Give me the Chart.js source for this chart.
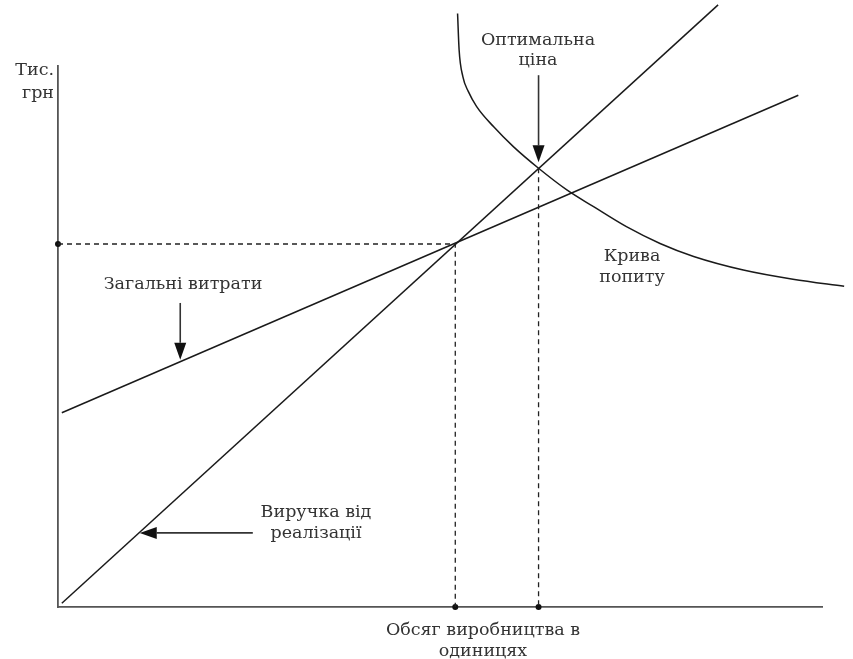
<!DOCTYPE html>
<html>
<head>
<meta charset="utf-8">
<script src="https://cdn.jsdelivr.net/npm/chart.js@4.4.1/dist/chart.umd.min.js"></script>
<style>
  html, body { margin: 0; padding: 0; background: #fff; }
  #wrap { width: 853px; height: 659px; }
</style>
</head>
<body>
<div id="wrap"><canvas id="chart" width="853" height="659"></canvas></div>
<script>
// обсяг (x) та тис. грн (y), умовні одиниці
const revenueX = [0.5, 86.4];
const revenueY = [0.7, 111.3];
const costX = [0.5, 96.9];
const costY = [35.9, 94.6];
const demandX = [52.3, 52.5, 53.0, 53.7, 54.8, 57.0, 59.6, 62.9, 66.6, 70.1, 74.4, 78.8, 83.2, 89.7, 96.2, 102.9];
const demandY = [109.7, 103.0, 98.0, 95.3, 92.5, 88.8, 85.1, 81.1, 77.1, 74.0, 70.3, 67.2, 64.8, 62.3, 60.6, 59.3];
const breakEven = [52.0, 67.1];
const optimum = [62.9, 81.1];

// arrows: from -> to (data units)
const arrows = [
  { from: [62.9, 98.3], to: [62.9, 82.2] },
  { from: [16.0, 56.2], to: [16.0, 45.7] },
  { from: [25.5, 13.7], to: [10.7, 13.7] }
];

const toXY = (xs, ys) => xs.map((x, i) => ({ x, y: ys[i] }));

const INK = '#1a1a1a';
const FONT = '17.5px "DejaVu Serif", serif';

const labelsPlugin = {
  id: 'labels',
  afterDraw(chart) {
    const { ctx, scales: { x, y } } = chart;
    ctx.save();
    // arrows
    ctx.strokeStyle = '#333';
    ctx.fillStyle = '#111';
    ctx.lineWidth = 1.6;
    arrows.forEach(a => {
      const x0 = x.getPixelForValue(a.from[0]), y0 = y.getPixelForValue(a.from[1]);
      const x1 = x.getPixelForValue(a.to[0]), y1 = y.getPixelForValue(a.to[1]);
      const ang = Math.atan2(y1 - y0, x1 - x0);
      const len = 17, half = 6;
      const bx = x1 - len * Math.cos(ang), by = y1 - len * Math.sin(ang);
      ctx.beginPath();
      ctx.moveTo(x0, y0);
      ctx.lineTo(bx, by);
      ctx.stroke();
      ctx.beginPath();
      ctx.moveTo(x1, y1);
      ctx.lineTo(bx + half * Math.sin(ang), by - half * Math.cos(ang));
      ctx.lineTo(bx - half * Math.sin(ang), by + half * Math.cos(ang));
      ctx.closePath();
      ctx.fill();
    });

    // texts
    ctx.fillStyle = '#333';
    ctx.font = FONT;
    ctx.textBaseline = 'middle';
    ctx.textAlign = 'right';
    ctx.fillText('Тис.', 54, 70);
    ctx.fillText('грн', 54, 93);
    ctx.textAlign = 'center';
    ctx.fillText('Оптимальна', 538, 40);
    ctx.fillText('ціна', 538, 60);
    ctx.fillText('Загальні витрати', 183, 284);
    ctx.fillText('Крива', 632, 256);
    ctx.fillText('попиту', 632, 277);
    ctx.fillText('Виручка від', 316, 512);
    ctx.fillText('реалізації', 316, 533);
    ctx.fillText('Обсяг виробництва в', 483, 630);
    ctx.fillText('одиницях', 483, 651);
    ctx.restore();
  }
};

const solid = { showLine: true, borderColor: INK, borderWidth: 1.5, pointRadius: 0, clip: false, fill: false };
const dashed = { showLine: true, borderColor: '#222', borderWidth: 1.3, borderDash: [5, 4], pointRadius: 0, clip: false, fill: false };

new Chart(document.getElementById('chart'), {
  type: 'scatter',
  data: {
    datasets: [
      { ...dashed, data: [{ x: 0, y: breakEven[1] }, { x: breakEven[0], y: breakEven[1] }, { x: breakEven[0], y: 0 }] },
      { ...dashed, data: [{ x: optimum[0], y: optimum[1] }, { x: optimum[0], y: 0 }] },
      { ...solid, data: toXY(revenueX, revenueY) },
      { ...solid, data: toXY(costX, costY) },
      { ...solid, data: toXY(demandX, demandY), cubicInterpolationMode: 'monotone' },
      {
        showLine: false, clip: false, pointRadius: 3, pointBackgroundColor: '#111', pointBorderWidth: 0,
        data: [{ x: 0, y: breakEven[1] }, { x: breakEven[0], y: 0 }, { x: optimum[0], y: 0 }]
      }
    ]
  },
  options: {
    responsive: false,
    animation: false,
    layout: { padding: { left: 58, right: 31, top: 66, bottom: 52 } },
    plugins: { legend: { display: false }, tooltip: { enabled: false } },
    scales: {
      x: {
        type: 'linear', min: 0, max: 100,
        grid: { display: false, drawTicks: false },
        ticks: { display: false },
        border: { display: true, color: '#555', width: 1.8 },
        afterFit: s => { s.height = 0; }
      },
      y: {
        type: 'linear', min: 0, max: 100,
        grid: { display: false, drawTicks: false },
        ticks: { display: false },
        border: { display: true, color: '#555', width: 1.8 },
        afterFit: s => { s.width = 0; }
      }
    }
  },
  plugins: [labelsPlugin]
});
</script>
</body>
</html>
